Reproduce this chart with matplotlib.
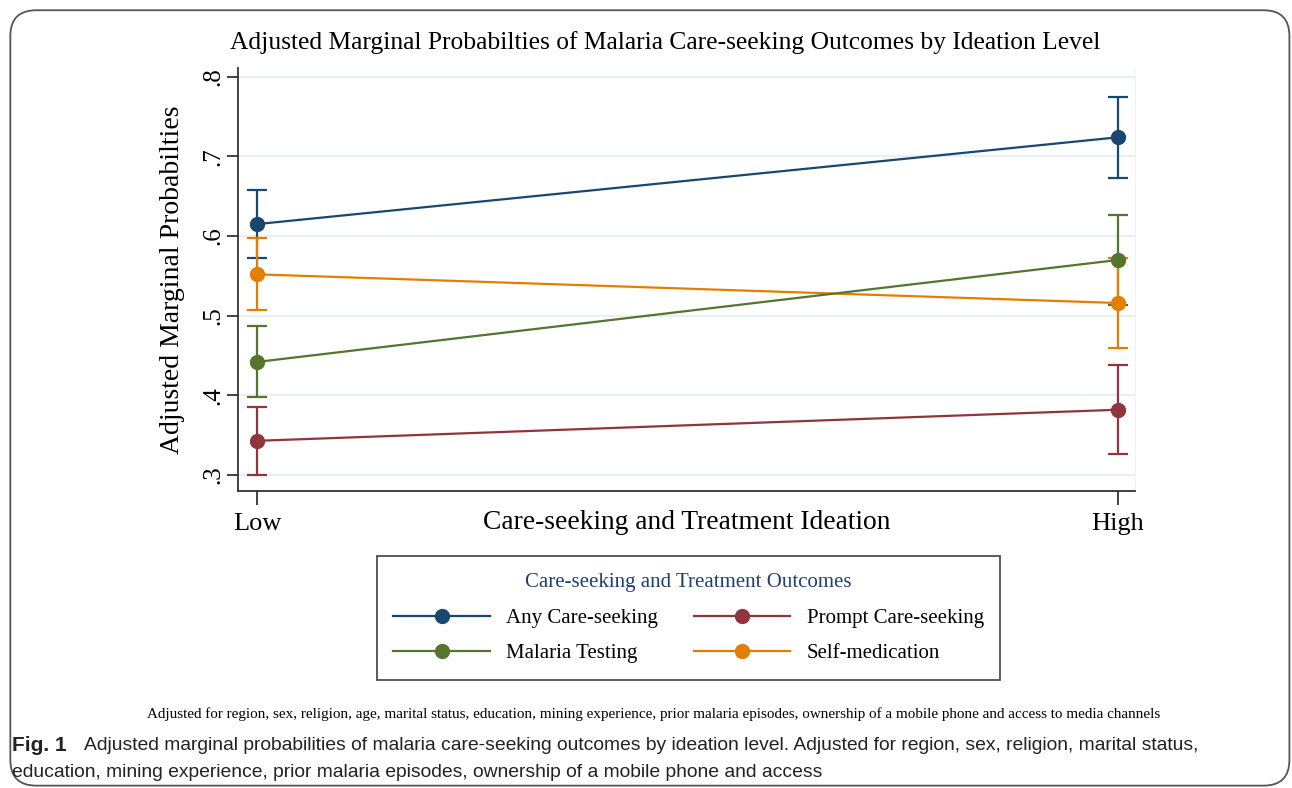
import numpy as np
import matplotlib.pyplot as plt
from matplotlib.patches import FancyBboxPatch
from matplotlib.lines import Line2D

plt.rcParams['font.family'] = ['Liberation Serif', 'DejaVu Serif']

levels = ['Low', 'High']
series = ['Any Care-seeking', 'Prompt Care-seeking', 'Malaria Testing', 'Self-medication']
colors = ['#1a476f', '#90353b', '#55752f', '#e37e00']

any_care = [0.615, 0.724]
any_care_lo = [0.573, 0.673]
any_care_hi = [0.658, 0.775]

prompt_care = [0.343, 0.382]
prompt_care_lo = [0.300, 0.326]
prompt_care_hi = [0.386, 0.438]

testing = [0.442, 0.570]
testing_lo = [0.398, 0.514]
testing_hi = [0.487, 0.627]

self_med = [0.552, 0.516]
self_med_lo = [0.507, 0.459]
self_med_hi = [0.597, 0.573]

est = [any_care, prompt_care, testing, self_med]
lo = [any_care_lo, prompt_care_lo, testing_lo, self_med_lo]
hi = [any_care_hi, prompt_care_hi, testing_hi, self_med_hi]

fig = plt.figure(figsize=(12.92, 7.88), dpi=100)
ax = fig.add_axes([0.1842, 0.3769, 0.6943, 0.5368])

x = np.arange(len(levels))
# error bars first, then lines+markers, so the markers sit on top
for k in [0, 1, 2, 3]:
    e = np.array(est[k])
    yerr = [e - np.array(lo[k]), np.array(hi[k]) - e]
    ax.errorbar(x, e, yerr=yerr, color=colors[k], fmt='none', capsize=7,
                capthick=1.6, elinewidth=1.6, zorder=3)
for k in [3, 0, 1, 2]:
    ax.plot(x, est[k], color=colors[k], lw=1.6, marker='o', ms=10, zorder=4)

ax.set_xlim(-0.022, 1.02)
ax.set_ylim(0.28, 0.811)
ax.set_yticks([0.3, 0.4, 0.5, 0.6, 0.7, 0.8])
ax.set_yticklabels(['.3', '.4', '.5', '.6', '.7', '.8'], rotation=90, va='center', fontsize=18)
ax.set_xticks(x)
ax.set_xticklabels(levels, fontsize=19)
ax.yaxis.grid(True, color='#e8f0f2', lw=1.5)
ax.set_axisbelow(True)
ax.tick_params(axis='y', length=8, width=1.3, color='#333333', pad=2)
ax.tick_params(axis='x', length=10, width=1.3, color='#333333', pad=6)
for s in ['left', 'bottom']:
    ax.spines[s].set_color('#333333')
    ax.spines[s].set_linewidth(1.3)
ax.spines['top'].set_visible(False)
ax.spines['right'].set_color('#eef4f5')

ax.set_ylabel('Adjusted Marginal Probabilties', fontsize=20, labelpad=12)
ax.set_xlabel('Care-seeking and Treatment Ideation', fontsize=19.8, labelpad=-18)
ax.set_title('Adjusted Marginal Probabilties of Malaria Care-seeking Outcomes by Ideation Level',
             fontsize=18.4, pad=14, x=0.476)

handles = [Line2D([], [], color=c, lw=1.6, marker='o', ms=10) for c in colors]
order = [0, 2, 1, 3]
leg = fig.legend([handles[i] for i in order], [series[i] for i in order],
                 ncol=2, loc='center', bbox_to_anchor=(0.5329, 0.2157),
                 title='Care-seeking and Treatment Outcomes', fontsize=15,
                 title_fontsize=15, frameon=True, fancybox=False, edgecolor='#222222',
                 handlelength=4.65, handletextpad=0.77, columnspacing=1.7,
                 borderpad=0.8, labelspacing=0.72)
leg.get_title().set_color('#1f3f6e')
leg.get_frame().set_linewidth(1.3)
leg._legend_box.sep = 12

fig.text(0.5058, 0.094, 'Adjusted for region, sex, religion, age, marital status, education, mining experience, '
         'prior malaria episodes, ownership of a mobile phone and access to media channels',
         ha='center', va='center', fontsize=10.9)

cap_font = ['Liberation Sans', 'DejaVu Sans']
fig.text(0.009, 0.054, 'Fig. 1', ha='left', va='center', fontsize=15, fontweight='bold',
         family=cap_font, color='#222222')
fig.text(0.065, 0.054, 'Adjusted marginal probabilities of malaria care-seeking outcomes by ideation level. '
         'Adjusted for region, sex, religion, marital status,',
         ha='left', va='center', fontsize=13.9, family=cap_font, color='#222222')
fig.text(0.009, 0.020, 'education, mining experience, prior malaria episodes, ownership of a mobile phone and access',
         ha='left', va='center', fontsize=13.9, family=cap_font, color='#222222')

border = FancyBboxPatch((0.008, 0.003), 0.99, 0.984, boxstyle='round,pad=0,rounding_size=0.02',
                        transform=fig.transFigure, fill=False, edgecolor='#555555', lw=1.3,
                        mutation_aspect=1.64)
fig.patches.append(border)

fig.savefig('out.png', dpi=100)
